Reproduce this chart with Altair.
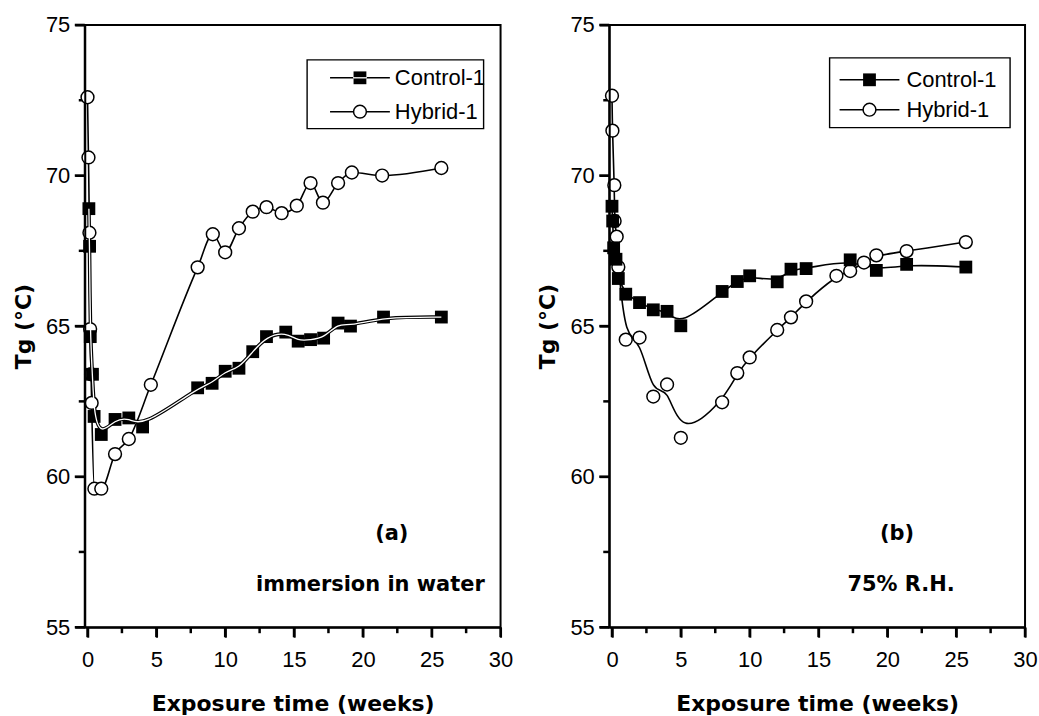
import altair as alt
import pandas as pd

SERIES = ["Control-1", "Hybrid-1"]

# (a) immersion in water
a_ctrl_t = [0.1, 0.15, 0.2, 0.36, 0.48, 1.0, 2.0, 3.0, 4.0, 8.0, 9.05, 10.0, 11.0,
            12.0, 13.0, 14.4, 15.3, 16.2, 17.15, 18.2, 19.1, 21.5, 25.7]
a_ctrl_tg = [68.9, 67.65, 64.65, 63.4, 62.0, 61.4, 61.9, 61.95, 61.65, 62.95, 63.1, 63.5, 63.6,
             64.15, 64.65, 64.8, 64.5, 64.55, 64.6, 65.1, 65.0, 65.3, 65.3]
a_hyb_t = [0.0, 0.07, 0.14, 0.19, 0.26, 0.3, 0.5, 1.0, 2.0, 3.0, 4.6, 8.0, 9.1, 10.0,
           11.0, 12.0, 13.0, 14.1, 15.2, 16.2, 17.1, 18.2, 19.2, 21.4, 25.7]
a_hyb_tg = [72.6, 70.6, 68.1, 64.9, 63.4, 62.45, 59.6, 59.6, 60.75, 61.25, 63.05, 66.95, 68.05, 67.45,
            68.25, 68.8, 68.95, 68.75, 69.0, 69.75, 69.1, 69.75, 70.1, 70.0, 70.25]

# (b) 75% R.H.
b_ctrl_t = [0.0, 0.05, 0.12, 0.29, 0.46, 1.0, 2.0, 3.0, 4.0, 5.0, 8.0, 9.1, 10.0,
            12.0, 13.0, 14.1, 17.3, 19.2, 21.4, 25.7]
b_ctrl_tg = [68.98, 68.49, 67.6, 67.22, 66.58, 66.06, 65.78, 65.54, 65.49, 65.01, 66.15, 66.48, 66.67,
             66.47, 66.89, 66.91, 67.2, 66.85, 67.05, 66.96]
b_hyb_t = [0.0, 0.03, 0.17, 0.19, 0.34, 0.46, 1.0, 2.0, 3.0, 4.0, 5.0, 8.0, 9.1, 10.0,
           12.0, 13.0, 14.1, 16.3, 17.3, 18.3, 19.2, 21.4, 25.7]
b_hyb_tg = [72.65, 71.49, 69.68, 68.49, 67.97, 66.96, 64.55, 64.62, 62.66, 63.06, 61.29, 62.47, 63.44, 63.96,
            64.87, 65.29, 65.82, 66.67, 66.83, 67.11, 67.35, 67.49, 67.79]

X_MAJOR = [0, 5, 10, 15, 20, 25, 30]
X_MINOR = [2.5, 7.5, 12.5, 17.5, 22.5, 27.5]
Y_MAJOR = [55, 60, 65, 70, 75]
Y_MINOR = [57.5, 62.5, 67.5, 72.5]

W, H = 417, 604
TITLE_FONT = "DejaVu Sans"
LABEL_FONT = "Liberation Sans"
MARK_SIZE = 165
MAJOR_LEN, MINOR_LEN = 10, 6
TICK_THICK = 2.5


def legend_layers(box, rows, line_x, marker_x, text_x, stripe):
    """Framed key: a line with its marker and the series name on each row."""
    ldf = pd.DataFrame({"series": SERIES})
    bx0, bx1, by0, by1 = box
    out = [alt.Chart(ldf).transform_filter(alt.datum.series == SERIES[0]).mark_rect(
        fill="white", stroke="black", strokeWidth=1.4
    ).encode(x=alt.value(bx0), x2=alt.value(bx1), y=alt.value(by0), y2=alt.value(by1))]
    for name, ry in zip(SERIES, rows):
        one = alt.Chart(ldf).transform_filter(alt.datum.series == name)
        out.append(one.mark_rule(color="black", strokeWidth=1.6).encode(
            x=alt.value(line_x[0]), x2=alt.value(line_x[1]), y=alt.value(ry)))
        if name == SERIES[0]:
            out.append(one.mark_square(size=MARK_SIZE, color="black", opacity=1).encode(
                x=alt.value(marker_x), y=alt.value(ry)))
            if stripe:
                out.append(one.mark_rule(color="white", strokeWidth=1.3).encode(
                    x=alt.value(marker_x - 7), x2=alt.value(marker_x + 7), y=alt.value(ry)))
        else:
            out.append(one.mark_point(shape="circle", size=MARK_SIZE, filled=True, fill="white",
                                      stroke="black", strokeWidth=1.5, opacity=1).encode(
                x=alt.value(marker_x), y=alt.value(ry)))
        out.append(one.mark_text(font=LABEL_FONT, fontSize=22, color="black",
                                 align="left", baseline="middle").encode(
            x=alt.value(text_x), y=alt.value(ry), text="series:N"))
    return out


def make_panel(ctrl_t, ctrl_tg, hyb_t, hyb_tg, tag, tag_x, cond, cond_x, cond_align,
               box, rows, line_x, marker_x, text_x, water_style):
    df = pd.concat([
        pd.DataFrame({"t": ctrl_t, "tg": ctrl_tg, "series": SERIES[0]}),
        pd.DataFrame({"t": hyb_t, "tg": hyb_tg, "series": SERIES[1]}),
    ])

    # the axes keep room for their ticks; the ticks themselves are filled tick marks below
    x_enc = alt.X(
        "t:Q",
        scale=alt.Scale(domain=[-0.2, 30], nice=False, zero=False),
        axis=alt.Axis(values=X_MAJOR, format="d", ticks=True, tickSize=MAJOR_LEN,
                      tickColor="#000000", tickWidth=2, tickOpacity=1,
                      domain=True, domainColor="black", domainWidth=2, zindex=1,
                      labelPadding=12, titlePadding=24, labelFlush=False),
        title="Exposure time (weeks)",
    )
    y_enc = alt.Y(
        "tg:Q",
        scale=alt.Scale(domain=[55, 75], nice=False, zero=False),
        axis=alt.Axis(values=Y_MAJOR, format="d", ticks=True, tickSize=MAJOR_LEN,
                      tickColor="#000000", tickWidth=2, tickOpacity=1,
                      domain=True, domainColor="black", domainWidth=2, zindex=1,
                      labelPadding=5, titlePadding=10, labelFlush=False),
        title="Tg (°C)",
    )

    base = alt.Chart(df).encode(x=x_enc, y=y_enc)
    ctrl = base.transform_filter(alt.datum.series == SERIES[0])
    hyb = base.transform_filter(alt.datum.series == SERIES[1])

    def x_ticks(vals, length):
        return alt.Chart(pd.DataFrame({"t": vals})).mark_tick(
            orient="vertical", color="#000000", opacity=1, size=length, thickness=TICK_THICK, clip=False
        ).encode(x=x_enc, y=alt.value(H + length / 2))

    def y_ticks(vals, length):
        return alt.Chart(pd.DataFrame({"tg": vals})).mark_tick(
            orient="horizontal", color="#000000", opacity=1, size=length, thickness=TICK_THICK, clip=False
        ).encode(y=y_enc, x=alt.value(-length / 2))

    layers = [x_ticks(X_MAJOR, MAJOR_LEN), x_ticks(X_MINOR, MINOR_LEN),
              y_ticks(Y_MAJOR, MAJOR_LEN), y_ticks(Y_MINOR, MINOR_LEN)]
    if water_style:
        layers.append(hyb.mark_line(color="black", strokeWidth=1.6, interpolate="monotone"))
        layers.append(ctrl.mark_line(color="black", strokeWidth=3.6, interpolate="basis"))
    else:
        layers.append(hyb.mark_line(color="black", strokeWidth=1.6, interpolate="basis"))
        layers.append(ctrl.mark_line(color="black", strokeWidth=1.6, interpolate="basis"))

    layers.append(hyb.mark_point(shape="circle", size=MARK_SIZE, filled=True, fill="white",
                                 stroke="black", strokeWidth=1.5, opacity=1))
    layers.append(ctrl.mark_square(size=MARK_SIZE, color="black", opacity=1))
    if water_style:
        layers.append(ctrl.mark_line(color="white", strokeWidth=1.3, interpolate="basis"))

    tag_df = pd.DataFrame({"t": [tag_x], "tg": [58.1], "txt": [tag]})
    cond_df = pd.DataFrame({"t": [cond_x], "tg": [56.4], "txt": [cond]})
    layers.append(alt.Chart(tag_df).mark_text(
        font=TITLE_FONT, fontWeight="bold", fontSize=21, color="black", align="center", baseline="middle"
    ).encode(x=x_enc, y=y_enc, text="txt:N"))
    layers.append(alt.Chart(cond_df).mark_text(
        font=TITLE_FONT, fontWeight="bold", fontSize=21, color="black", align=cond_align, baseline="middle"
    ).encode(x=x_enc, y=y_enc, text="txt:N"))

    layers += legend_layers(box, rows, line_x, marker_x, text_x, water_style)

    return alt.layer(*layers).properties(width=W, height=H)


panel_a = make_panel(a_ctrl_t, a_ctrl_tg, a_hyb_t, a_hyb_tg, "(a)", 22.1,
                     "immersion in water", 28.85, "right",
                     box=(223, 400, 35, 104), rows=(53, 87),
                     line_x=(246, 306), marker_x=276, text_x=311, water_style=True)
panel_b = make_panel(b_ctrl_t, b_ctrl_tg, b_hyb_t, b_hyb_tg, "(b)", 20.7,
                     "75% R.H.", 21.0, "center",
                     box=(221, 402, 33, 103), rows=(55, 85),
                     line_x=(231, 291), marker_x=261, text_x=298, water_style=False)

chart = alt.hconcat(panel_a, panel_b, spacing=21).resolve_scale(
    x="independent", y="independent"
).properties(
    padding={"left": 11, "top": 12, "right": 0, "bottom": 0},
    background="white",
).configure_view(
    stroke="black", strokeWidth=2
).configure_axis(
    grid=False,
    labelFont=LABEL_FONT, labelFontSize=22, labelColor="black",
    titleFont=TITLE_FONT, titleFontSize=22, titleFontWeight="bold", titleColor="black",
)

chart.save("out.html", embed_options={"renderer": "svg", "actions": False})
